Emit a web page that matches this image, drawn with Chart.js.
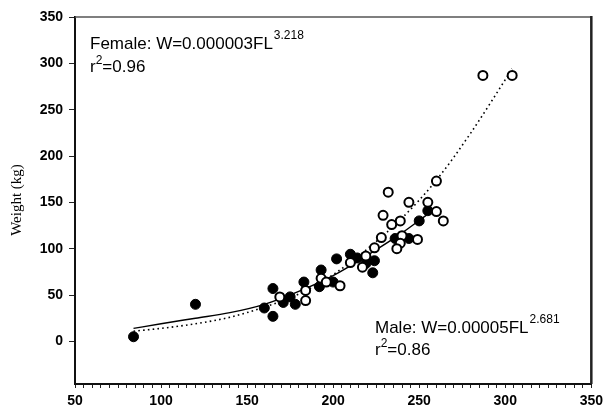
<!DOCTYPE html>
<html><head><meta charset="utf-8">
<script src="https://cdn.jsdelivr.net/npm/chart.js@4.4.1/dist/chart.umd.min.js"></script>
<style>html,body{margin:0;padding:0;background:#fff}#wrap{width:608px;height:410px}</style>
</head><body><div id="wrap"><canvas id="c" width="608" height="410"></canvas></div>
<script>
// Female (open circles): fork length (FL) and weight (kg)
const femaleFL = [287, 304, 260, 232, 244, 255, 229, 260, 264, 239, 234, 228, 240, 249, 239, 237, 224, 219, 210, 217, 193, 204, 169, 184, 184, 196];
const femaleW  = [287, 287, 173, 161, 150, 150, 136, 140, 130, 130, 126, 112, 114, 110, 106, 100, 101, 92, 85, 80, 68, 60, 48, 55, 44, 64];
// Male (filled circles)
const maleFL = [84, 120, 160, 165, 165, 171, 175, 178, 183, 192, 193, 200, 202, 210, 214, 219, 224, 223, 236, 244, 250, 255];
const maleW  = [5, 40, 36, 57, 27, 42, 48, 40, 64, 59, 77, 64, 89, 94, 90, 84, 87, 74, 111, 111, 130, 141];
// Fitted curves
const maleFitFL = [84, 100, 120, 140, 160, 180, 200, 220, 240, 254];
const maleFitW  = [14, 19, 25, 31, 40, 54, 71, 93, 117, 136];
const femaleFitFL = [84, 100, 120, 140, 160, 180, 200, 220, 240, 260, 280, 304];
const femaleFitW  = [11, 14, 19, 26, 37, 51, 72, 100, 133, 174, 225, 294];
// Axis ticks
const xMajorTicks = [50, 100, 150, 200, 250, 300, 350];
const xMinorStep = 5;
const yTicks = [0, 50, 100, 150, 200, 250, 300, 350];
const yAxisTitle = 'Weight (kg)';
const femaleLabel = ['Female: W=0.000003FL', '3.218', 'r', '2', '=0.96'];
const maleLabel = ['Male: W=0.00005FL', '2.681', 'r', '2', '=0.86'];

const pts = (xs, ys) => xs.map((x, i) => ({x: x, y: ys[i]}));

const annot = {
  id: 'annot',
  afterDraw(chart) {
    const ctx = chart.ctx, a = chart.chartArea;
    ctx.save();
    // frame top and right
    ctx.strokeStyle = '#555'; ctx.lineWidth = 1.5;
    ctx.beginPath(); ctx.moveTo(a.left, a.top); ctx.lineTo(a.right, a.top); ctx.stroke();
    ctx.strokeStyle = '#222'; ctx.lineWidth = 2.5;
    ctx.beginPath(); ctx.moveTo(a.right, a.top - 1); ctx.lineTo(a.right, a.bottom); ctx.stroke();
    // y title
    ctx.fillStyle = '#000';
    ctx.font = '15px "Liberation Serif", "Times New Roman", serif';
    ctx.textAlign = 'center'; ctx.textBaseline = 'middle';
    ctx.translate(17, 200); ctx.rotate(-Math.PI / 2);
    ctx.fillText(yAxisTitle, 0, 0);
    ctx.setTransform(1, 0, 0, 1, 0, 0);
    ctx.textAlign = 'left'; ctx.textBaseline = 'alphabetic';
    const big = '17px "Liberation Sans", Arial, sans-serif';
    const small = '12px "Liberation Sans", Arial, sans-serif';
    const eq = (lab, x, y1, y2) => {
      ctx.font = big;
      ctx.fillText(lab[0], x, y1);
      let w = ctx.measureText(lab[0]).width;
      ctx.font = small;
      ctx.fillText(lab[1], x + w + 1, y1 - 10);
      ctx.font = big;
      ctx.fillText(lab[2], x, y2);
      let w2 = ctx.measureText(lab[2]).width;
      ctx.font = small;
      ctx.fillText(lab[3], x + w2, y2 - 8);
      let w3 = ctx.measureText(lab[3]).width;
      ctx.font = big;
      ctx.fillText(lab[4], x + w2 + w3, y2);
    };
    eq(femaleLabel, 90, 49, 72);
    eq(maleLabel, 375, 333, 355);
    ctx.restore();
  }
};

new Chart(document.getElementById('c'), {
  type: 'scatter',
  data: {
    datasets: [
      {data: pts(femaleFitFL, femaleFitW), showLine: true, pointRadius: 0, borderColor: '#000', borderWidth: 1.6, borderDash: [1.6, 3.2], cubicInterpolationMode: 'monotone', fill: false, order: 3},
      {data: pts(maleFitFL, maleFitW), showLine: true, pointRadius: 0, borderColor: '#000', borderWidth: 1.4, cubicInterpolationMode: 'monotone', fill: false, order: 4},
      {data: pts(femaleFL, femaleW), pointRadius: 4.5, pointBackgroundColor: '#fff', pointBorderColor: '#000', pointBorderWidth: 2, order: 1},
      {data: pts(maleFL, maleW), pointRadius: 5, pointBackgroundColor: '#000', pointBorderColor: '#000', pointBorderWidth: 1, order: 2}
    ]
  },
  options: {
    responsive: false, animation: false, devicePixelRatio: 1,
    layout: {padding: {left: 0, top: 17, right: 11, bottom: 0}},
    plugins: {legend: {display: false}, tooltip: {enabled: false}},
    scales: {
      x: {
        type: 'linear', min: 50, max: 350,
        afterFit(s) { s.height = 26; },
        afterBuildTicks(s) {
          const t = [];
          for (let v = xMajorTicks[0]; v <= xMajorTicks[xMajorTicks.length - 1]; v += xMinorStep) t.push({value: v});
          s.ticks = t;
        },
        grid: {display: true, drawOnChartArea: false, drawTicks: true, tickLength: 4, color: '#222', tickWidth: 1},
        border: {display: true, color: '#111', width: 2},
        ticks: {
          autoSkip: false, maxRotation: 0, padding: 5, color: '#000',
          font: {family: '"Liberation Sans", Arial, sans-serif', size: 14, weight: 'bold'},
          callback: v => xMajorTicks.includes(v) ? String(v) : ''
        }
      },
      y: {
        type: 'linear', min: -46, max: 350,
        afterFit(s) { s.width = 75; },
        afterBuildTicks(s) { s.ticks = yTicks.map(v => ({value: v})); },
        grid: {display: true, drawOnChartArea: false, drawTicks: true, tickLength: 6, color: '#222'},
        border: {display: true, color: '#111', width: 2},
        ticks: {
          autoSkip: false, padding: 6, color: '#000',
          font: {family: '"Liberation Sans", Arial, sans-serif', size: 14, weight: 'bold'}
        }
      }
    }
  },
  plugins: [annot]
});
</script></body></html>
